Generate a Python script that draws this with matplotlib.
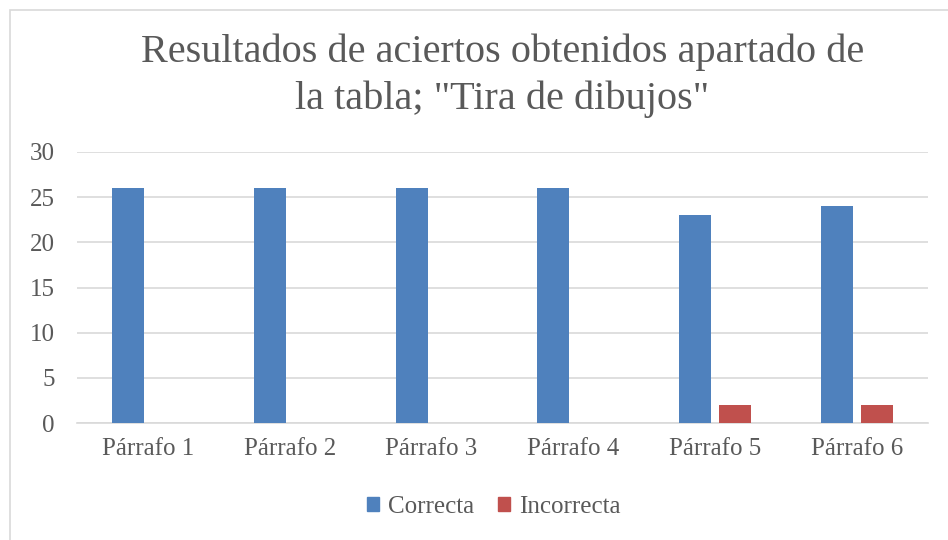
import matplotlib
matplotlib.use('Agg')
import matplotlib.pyplot as plt
import matplotlib.patches as mpatches
import numpy as np

categorias = ['Párrafo 1', 'Párrafo 2', 'Párrafo 3', 'Párrafo 4', 'Párrafo 5', 'Párrafo 6']
correcta = [26, 26, 26, 26, 23, 24]
incorrecta = [0, 0, 0, 0, 2, 2]
series = ['Correcta', 'Incorrecta']
colores = ['#4F81BD', '#C0504D']
gris = '#595959'

plt.rcParams['font.family'] = ['Liberation Serif', 'DejaVu Serif']

fig = plt.figure(figsize=(9.48, 5.4), dpi=100)
fig.patches.append(mpatches.Rectangle((10/948, -0.1), 2, 1.1 - 10/540, transform=fig.transFigure,
                                      fill=False, edgecolor='#D9D9D9', linewidth=1.2))

ax = fig.add_axes([77/948, 1 - 423/540, (928 - 77)/948, (423 - 152)/540])
x = np.arange(len(categorias))
w = 0.226
ax.bar(x - 0.141, correcta, w, color=colores[0], label=series[0], zorder=3)
ax.bar(x + 0.141, incorrecta, w, color=colores[1], label=series[1], zorder=3)

ax.set_xlim(-0.5, len(categorias) - 0.5)
ax.set_ylim(0, 30)
ax.set_yticks(range(0, 31, 5))
ax.set_xticks(x)
ax.set_xticklabels(categorias)
ax.tick_params(axis='both', length=0, labelsize=18, labelcolor=gris)
ax.tick_params(axis='x', pad=11)
ax.tick_params(axis='y', pad=16)
ax.grid(axis='y', color='#D9D9D9', linewidth=1.2, zorder=0)
for s in ['top', 'right', 'left']:
    ax.spines[s].set_visible(False)
ax.spines['bottom'].set_color('#D9D9D9')
ax.spines['bottom'].set_linewidth(1.2)

fig.text(0.53, 1 - 76/540, 'Resultados de aciertos obtenidos apartado de\nla tabla; "Tira de dibujos"',
         ha='center', va='center', fontsize=29, color=gris, linespacing=1.32)

handles = [mpatches.Patch(color=c, label=l) for c, l in zip(colores, series)]
fig.legend(handles=handles, loc='center', bbox_to_anchor=(0.521, 1 - 507/540), ncol=2, frameon=False,
           fontsize=18, labelcolor=gris, handlelength=0.48, handleheight=0.48, handletextpad=0.35,
           columnspacing=0.95)

plt.savefig('out.png', dpi=100)
plt.close()
